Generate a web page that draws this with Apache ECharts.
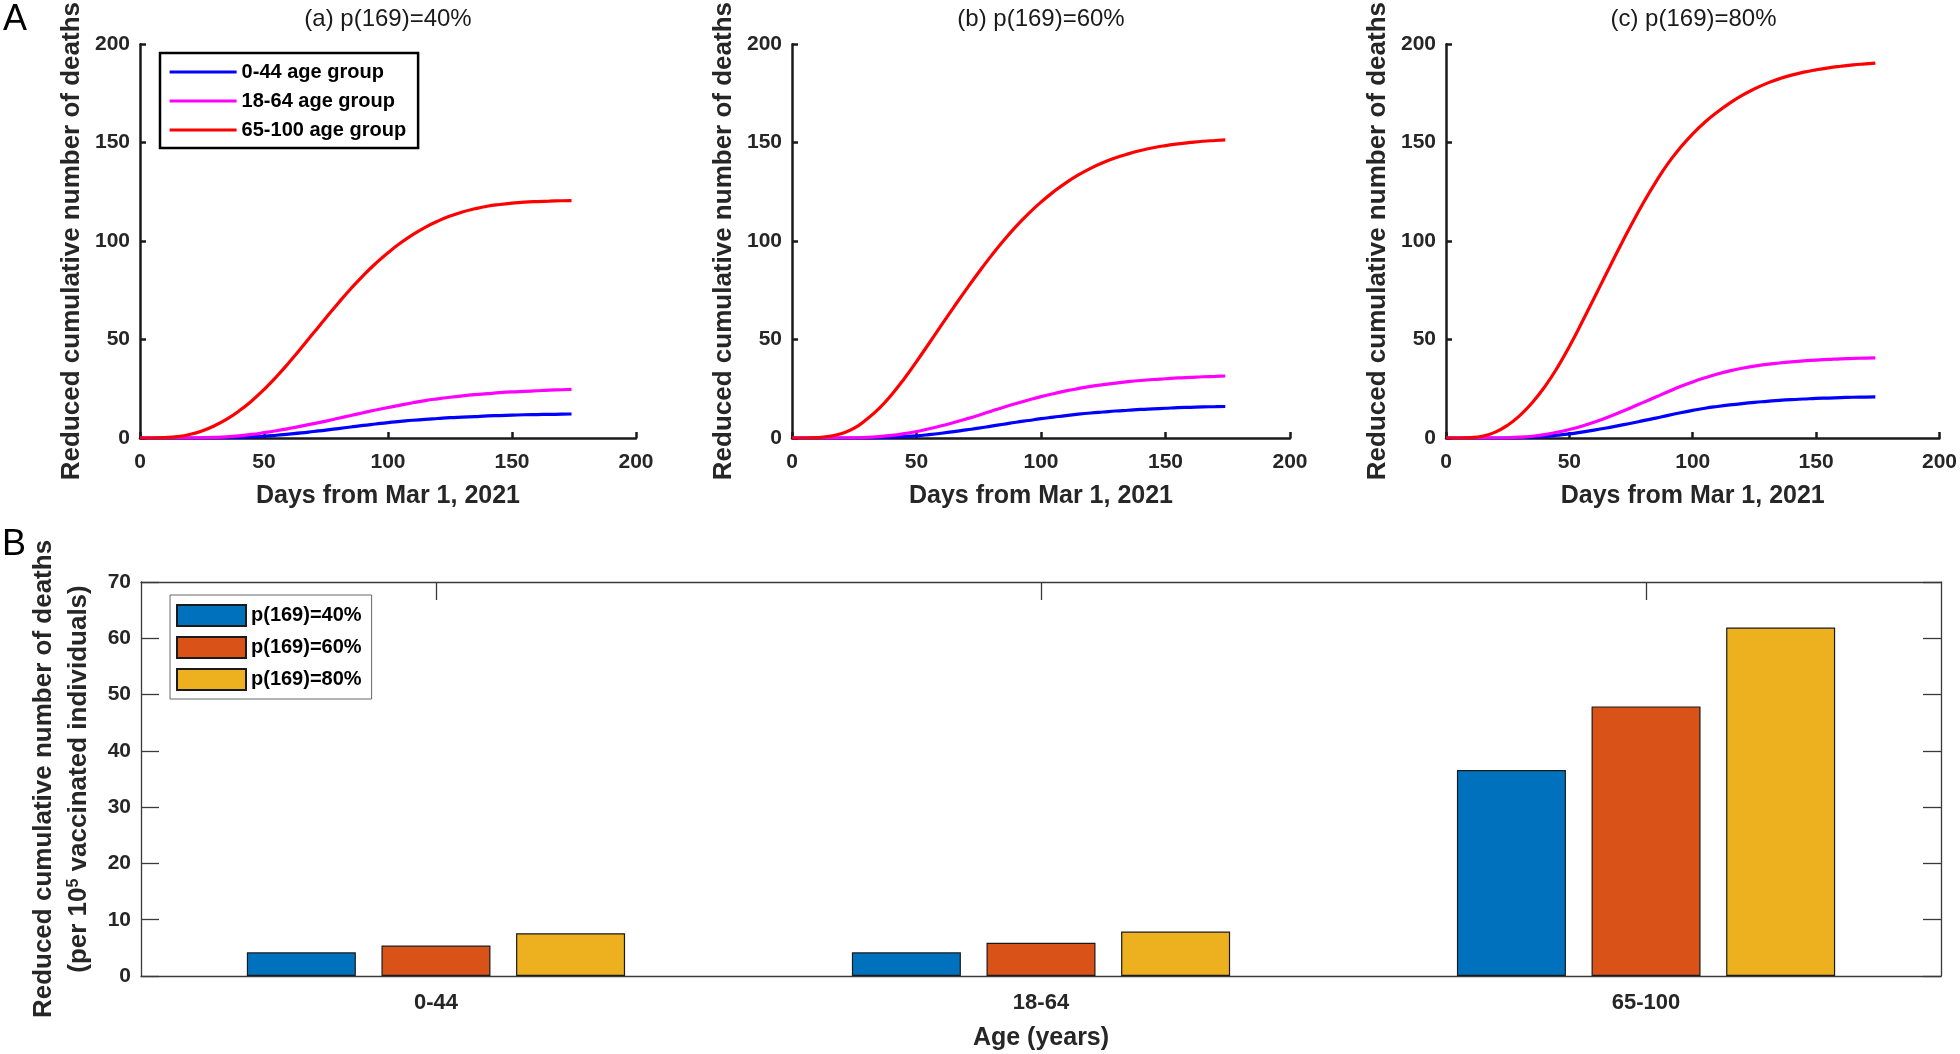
<!DOCTYPE html>
<html><head><meta charset="utf-8">
<script src="https://cdn.jsdelivr.net/npm/echarts@6/dist/echarts.min.js"></script>
<style>html,body{margin:0;padding:0;background:#fff}#c{width:1960px;height:1054px}</style>
</head><body><div id="c"></div>
<script>
// ---- data ----
const days = [0,5,10,15,20,25,30,35,40,45,50,55,60,65,70,75,80,85,90,95,100,105,110,115,120,125,130,135,140,145,150,155,160,165,170,174];
// panel (a) p(169)=40%
const blueA    = [0,0,0,0,0,0,0.05,0.2,0.35,0.6,0.9,1.4,2,2.6,3.3,4,4.8,5.6,6.4,7.1,7.8,8.4,9,9.5,9.9,10.3,10.6,10.9,11.2,11.4,11.6,11.8,11.9,12,12.1,12.2];
const magentaA = [0,0,0,0,0,0.1,0.3,0.6,1.1,1.8,2.7,3.7,4.8,6,7.3,8.6,10,11.4,12.8,14.2,15.5,16.7,17.9,19,19.9,20.7,21.4,22,22.5,23,23.4,23.7,24,24.3,24.5,24.7];
const redA     = [0,0,0.2,0.7,1.8,3.6,6.2,9.6,13.8,18.8,24.6,31.1,38.2,45.7,53.4,61.1,68.6,75.8,82.5,88.6,94.1,99,103.3,107,110.1,112.7,114.8,116.4,117.7,118.6,119.3,119.8,120.1,120.3,120.5,120.6];
// panel (b) p(169)=60%
const blueB    = [0,0,0,0,0,0,0,0.2,0.4,0.7,1.1,1.7,2.4,3.2,4.1,5,6,7,8,8.9,9.8,10.6,11.4,12.1,12.7,13.2,13.7,14.1,14.5,14.8,15.1,15.4,15.6,15.8,15.9,16];
const magentaB = [0,0,0,0,0,0.1,0.3,0.7,1.3,2.2,3.3,4.7,6.2,7.9,9.7,11.6,13.6,15.6,17.5,19.3,21,22.5,23.9,25.1,26.2,27.1,27.9,28.6,29.2,29.7,30.1,30.5,30.8,31.1,31.3,31.5];
const redB     = [0,0,0.2,0.9,2.3,5,9.5,15,22,30,38.8,48,57.3,66.5,75.5,84.2,92.5,100.3,107.5,114,119.8,125,129.6,133.6,137,139.9,142.3,144.3,146,147.4,148.5,149.4,150.1,150.7,151.1,151.4];
// panel (c) p(169)=80%
const blueC    = [0,0,0,0,0,0,0.2,0.4,0.8,1.4,2.1,3,4,5.1,6.3,7.5,8.8,10.1,11.5,12.8,14,15.1,16,16.8,17.5,18.1,18.6,19.1,19.5,19.8,20.1,20.3,20.5,20.7,20.8,20.9];
const magentaC = [0,0,0,0,0,0.1,0.4,0.9,1.7,2.9,4.3,6,8,10.3,12.8,15.4,18.1,20.8,23.5,26.1,28.5,30.6,32.5,34.1,35.4,36.5,37.4,38.1,38.7,39.2,39.6,39.9,40.2,40.4,40.6,40.7];
const redC     = [0,0,0.2,1,3,6.5,11.5,18,26,35.5,46.5,58.5,71,83.5,96,108,119.5,130,139.5,147.5,154.5,160.5,165.6,170.1,174,177.3,180.1,182.4,184.3,185.8,187,188,188.8,189.5,190,190.4];

const xTicksA = [0, 50, 100, 150, 200];
const yTicksA = [0, 50, 100, 150, 200];
const yTicksB = [0, 10, 20, 30, 40, 50, 60, 70];

const ageGroups = ['0-44', '18-64', '65-100'];
const bar40 = [4.2, 4.2, 36.6];
const bar60 = [5.4, 5.9, 47.9];
const bar80 = [7.6, 7.9, 61.9];

const lineNames = ['0-44 age group', '18-64 age group', '65-100 age group'];
const barNames = ['p(169)=40%', 'p(169)=60%', 'p(169)=80%'];
const panelTitles = ['(a) p(169)=40%', '(b) p(169)=60%', '(c) p(169)=80%'];

// ---- styling ----
const FF = '"Liberation Sans", Arial, Helvetica, sans-serif';
const lineColors = ['#0000ff', '#ff00ff', '#ff0000'];
const barColors = ['#0072BD', '#D95319', '#EDB120'];
const panels = [[blueA, magentaA, redA], [blueB, magentaB, redB], [blueC, magentaC, redC]];
const gridsA = [{left: 140, width: 496}, {left: 792, width: 498}, {left: 1446, width: 495}];

const grid = gridsA.map(g => ({left: g.left, width: g.width, top: 44, height: 394, containLabel: false}));
grid.push({left: 141, width: 1800, top: 582, height: 394, containLabel: false});

const tickLabel = {fontSize: 21, fontWeight: 'bold', color: '#262626', fontFamily: FF};
const axisTitle = {fontSize: 26, fontWeight: 'bold', color: '#262626', fontFamily: FF};

const xAxis = [], yAxis = [], series = [], graphic = [];
gridsA.forEach((g, i) => {
  xAxis.push({
    type: 'value', gridIndex: i, min: xTicksA[0], max: xTicksA[xTicksA.length - 1], interval: xTicksA[1] - xTicksA[0],
    axisLine: {onZero: false, lineStyle: {color: '#1a1a1a', width: 2.5}},
    axisTick: {inside: true, length: 6, lineStyle: {color: '#1a1a1a', width: 2.5}},
    splitLine: {show: false},
    axisLabel: Object.assign({margin: 14}, tickLabel),
    name: 'Days from Mar 1, 2021', nameLocation: 'middle', nameGap: 46,
    nameTextStyle: Object.assign({}, axisTitle, {fontSize: 25})
  });
  yAxis.push({
    type: 'value', gridIndex: i, min: yTicksA[0], max: yTicksA[yTicksA.length - 1], interval: yTicksA[1] - yTicksA[0],
    axisLine: {show: true, onZero: false, lineStyle: {color: '#1a1a1a', width: 2.5}},
    axisTick: {show: true, inside: true, length: 6, lineStyle: {color: '#1a1a1a', width: 2.5}},
    splitLine: {show: false},
    axisLabel: Object.assign({margin: 10}, tickLabel),
    name: 'Reduced cumulative number of deaths', nameLocation: 'middle', nameRotate: 90, nameGap: 55, nameTextStyle: axisTitle
  });
  panels[i].forEach((arr, k) => {
    series.push({
      type: 'line', name: lineNames[k], xAxisIndex: i, yAxisIndex: i,
      data: days.map((d, j) => [d, arr[j]]),
      symbol: 'none', showSymbol: false, smooth: 0.5,
      lineStyle: {color: lineColors[k], width: 3.2}, itemStyle: {color: lineColors[k]},
      emphasis: {disabled: true}, silent: true
    });
  });
  graphic.push({type: 'text', x: g.left + g.width / 2, y: 19,
    style: {text: panelTitles[i], align: 'center', verticalAlign: 'middle', fontSize: 24, fontFamily: FF, fill: '#1a1a1a'}});
});

// panel B (x positions 1..3 for the age groups, limits like the reference)
const bXmin = 0.5125, bXmax = 3.4875;
const groupPos = ageGroups.map((g, i) => i + 1);
const catFmt = v => { const i = groupPos.indexOf(Math.round(v)); return i >= 0 ? ageGroups[i] : ''; };
const bAxisLine = {onZero: false, lineStyle: {color: '#3a3a3a', width: 1.3}};
const bTick = {show: true, inside: true, length: 18, lineStyle: {color: '#3a3a3a', width: 1.3}};
xAxis.push({
  type: 'value', gridIndex: 3, min: bXmin, max: bXmax, position: 'bottom',
  axisLine: bAxisLine, axisTick: Object.assign({customValues: groupPos}, bTick), splitLine: {show: false},
  axisLabel: Object.assign({margin: 16, customValues: groupPos, formatter: catFmt}, tickLabel, {fontSize: 22}),
  name: 'Age (years)', nameLocation: 'middle', nameGap: 50, nameTextStyle: Object.assign({}, axisTitle, {fontSize: 25})
});
xAxis.push({
  type: 'value', gridIndex: 3, min: bXmin, max: bXmax, position: 'top',
  axisLine: bAxisLine, axisTick: Object.assign({customValues: groupPos}, bTick), splitLine: {show: false},
  axisLabel: {show: false}
});
yAxis.push({
  type: 'value', gridIndex: 3, position: 'left', min: yTicksB[0], max: yTicksB[yTicksB.length - 1], interval: yTicksB[1] - yTicksB[0],
  axisLine: Object.assign({show: true}, bAxisLine), axisTick: bTick, splitLine: {show: false},
  axisLabel: Object.assign({margin: 10}, tickLabel),
  name: '{a|Reduced cumulative number of deaths}\n{a|(per 10}{s|5}{a| vaccinated individuals)}',
  nameLocation: 'middle', nameRotate: 90, nameGap: 32,
  nameTextStyle: {
    fontSize: 26, fontWeight: 'bold', color: '#262626', fontFamily: FF, lineHeight: 35,
    rich: {
      a: {fontSize: 26, fontWeight: 'bold', color: '#262626', fontFamily: FF, lineHeight: 35},
      s: {fontSize: 16, fontWeight: 'bold', color: '#262626', fontFamily: FF, padding: [0, 0, 12, 0]}
    }
  }
});
yAxis.push({
  type: 'value', gridIndex: 3, position: 'right', min: yTicksB[0], max: yTicksB[yTicksB.length - 1], interval: yTicksB[1] - yTicksB[0],
  axisLine: Object.assign({show: true}, bAxisLine), axisTick: bTick, splitLine: {show: false},
  axisLabel: {show: false}
});
[bar40, bar60, bar80].forEach((arr, k) => {
  series.push({
    type: 'bar', name: barNames[k], xAxisIndex: 3, yAxisIndex: 3,
    data: arr.map((v, i) => [groupPos[i], v]),
    barWidth: 109, barGap: '23.5%',
    itemStyle: {color: barColors[k], borderColor: '#1a1a1a', borderWidth: 1.2},
    emphasis: {disabled: true}, silent: true
  });
});

graphic.push({type: 'text', x: 3, y: 20, style: {text: 'A', align: 'left', verticalAlign: 'middle', fontSize: 36, fontFamily: FF, fill: '#000'}});
graphic.push({type: 'text', x: 2, y: 545, style: {text: 'B', align: 'left', verticalAlign: 'middle', fontSize: 36, fontFamily: FF, fill: '#000'}});

const option = {
  animation: false,
  backgroundColor: '#fff',
  grid, xAxis, yAxis, series, graphic,
  legend: [
    {
      data: lineNames, orient: 'vertical', left: 160, top: 53,
      itemWidth: 67, itemHeight: 14, itemGap: 9, padding: [9, 12, 8, 8],
      borderColor: '#000', borderWidth: 2.5, backgroundColor: '#fff',
      itemStyle: {opacity: 0},
      lineStyle: {width: 3.2, opacity: 1},
      textStyle: {fontSize: 20, lineHeight: 20, fontWeight: 'bold', color: '#000', fontFamily: FF},
      selectedMode: false
    },
    {
      data: barNames, orient: 'vertical', left: 170, top: 595, icon: 'rect',
      itemWidth: 69, itemHeight: 21, itemGap: 9, padding: [9, 10, 8, 6],
      borderColor: '#666', borderWidth: 1, backgroundColor: '#fff',
      textStyle: {fontSize: 20, lineHeight: 20, fontWeight: 'bold', color: '#000', fontFamily: FF},
      selectedMode: false
    }
  ]
};
const chart = echarts.init(document.getElementById('c'), null, {renderer: 'canvas'});
chart.setOption(option);
</script>
</body></html>
